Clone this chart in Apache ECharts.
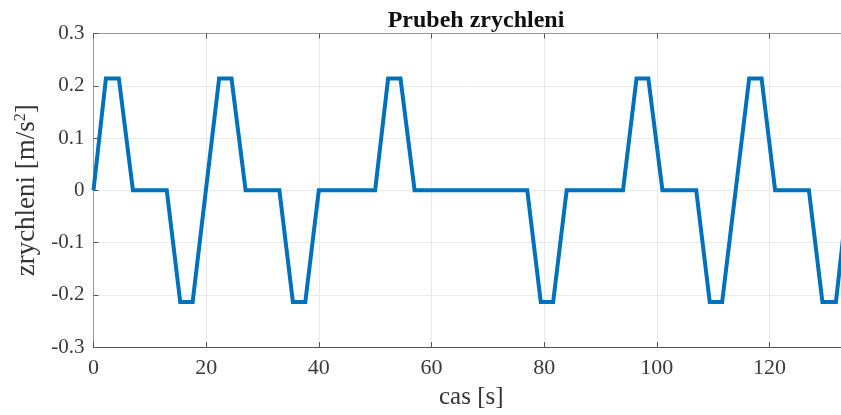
<!DOCTYPE html>
<html>
<head>
<meta charset="utf-8">
<title>Prubeh zrychleni</title>
<script src="https://cdn.jsdelivr.net/npm/echarts@6/dist/echarts.min.js"></script>
<style>
  html, body { margin: 0; padding: 0; background: #ffffff; }
  #chart { width: 841px; height: 415px; }
</style>
</head>
<body>
<div id="chart"></div>
<script>
// time samples [s] at the corners of the acceleration profile
var casS = [0, 2.2, 4.5, 7, 13, 15.4, 17.6, 22.3, 24.5, 27, 33, 35.4, 37.6, 40,
            50, 52.3, 54.5, 57, 77, 79.4, 81.6, 84, 94, 96.4, 98.5, 101,
            107, 109.4, 111.6, 116.4, 118.6, 121, 127, 129.4, 131.8, 134];
// acceleration [m/s^2] at those times
var zrychleni = [0, 0.214, 0.214, 0, 0, -0.214, -0.214, 0.214, 0.214, 0, 0, -0.214, -0.214, 0,
                 0, 0.214, 0.214, 0, 0, -0.214, -0.214, 0, 0, 0.214, 0.214, 0,
                 0, -0.214, -0.214, 0.214, 0.214, 0, 0, -0.214, -0.214, 0];
var xTicks = [0, 20, 40, 60, 80, 100, 120];
var yTicks = [-0.3, -0.2, -0.1, 0, 0.1, 0.2, 0.3];
// visible part of the time axis
var xMax = 132.7;

var points = casS.map(function (t, i) { return [t, zrychleni[i]]; });

var serif = '"Liberation Serif", "Times New Roman", serif';
var axisColor = '#555555';
var gridColor = '#e9e9e9';

var chart = echarts.init(document.getElementById('chart'), null, { renderer: 'canvas' });
chart.setOption({
  animation: false,
  backgroundColor: '#ffffff',
  title: {
    text: 'Prubeh zrychleni',
    left: 471,
    top: 4,
    textAlign: 'center',
    textStyle: { fontFamily: serif, fontWeight: 'bold', fontSize: 24, color: '#111111' }
  },
  grid: { left: 93.5, top: 33.5, right: 0, height: 314.8, containLabel: false },
  xAxis: [{
    type: 'value',
    min: xTicks[0],
    max: xMax,
    interval: 20,
    name: 'cas [s]',
    nameLocation: 'middle',
    nameGap: 38,
    nameTextStyle: { fontFamily: serif, fontSize: 25, color: '#333333', padding: [0, 0, 0, 8] },
    axisLine: { show: true, onZero: false, lineStyle: { color: axisColor, width: 1.2 } },
    axisTick: { show: true, inside: true, length: 5, lineStyle: { color: axisColor } },
    axisLabel: { fontFamily: serif, fontSize: 22, color: '#3a3a3a', margin: 10, showMaxLabel: false },
    splitLine: { show: true, lineStyle: { color: gridColor, width: 1 } }
  }, {
    type: 'value',
    position: 'top',
    min: xTicks[0],
    max: xMax,
    interval: 20,
    axisLine: { show: true, onZero: false, lineStyle: { color: '#9a9a9a', width: 1 } },
    axisTick: { show: true, inside: true, length: 5, lineStyle: { color: axisColor } },
    axisLabel: { show: false },
    splitLine: { show: false }
  }],
  yAxis: {
    type: 'value',
    min: yTicks[0],
    max: yTicks[yTicks.length - 1],
    interval: 0.1,
    name: 'zrychleni [m/s{sup|2}]',
    nameLocation: 'middle',
    nameGap: 46,
    nameTextStyle: {
      fontFamily: serif, fontSize: 27, color: '#333333',
      rich: { sup: { fontFamily: serif, fontSize: 16, color: '#333333', verticalAlign: 'top', padding: [0, 0, 12, 0] } }
    },
    axisLine: { show: true, onZero: false, lineStyle: { color: '#9a9a9a', width: 1 } },
    axisTick: { show: true, inside: true, length: 5, lineStyle: { color: axisColor } },
    axisLabel: {
      fontFamily: serif, fontSize: 21, color: '#3a3a3a', margin: 9,
      formatter: function (v) { return String(Math.round(v * 10) / 10); }
    },
    splitLine: { show: true, lineStyle: { color: gridColor, width: 1 } }
  },
  series: [{
    type: 'line',
    data: points,
    xAxisIndex: 0,
    showSymbol: false,
    symbol: 'none',
    clip: true,
    lineStyle: { color: '#0072BD', width: 4, join: 'miter' }
  }]
});
</script>
</body>
</html>
